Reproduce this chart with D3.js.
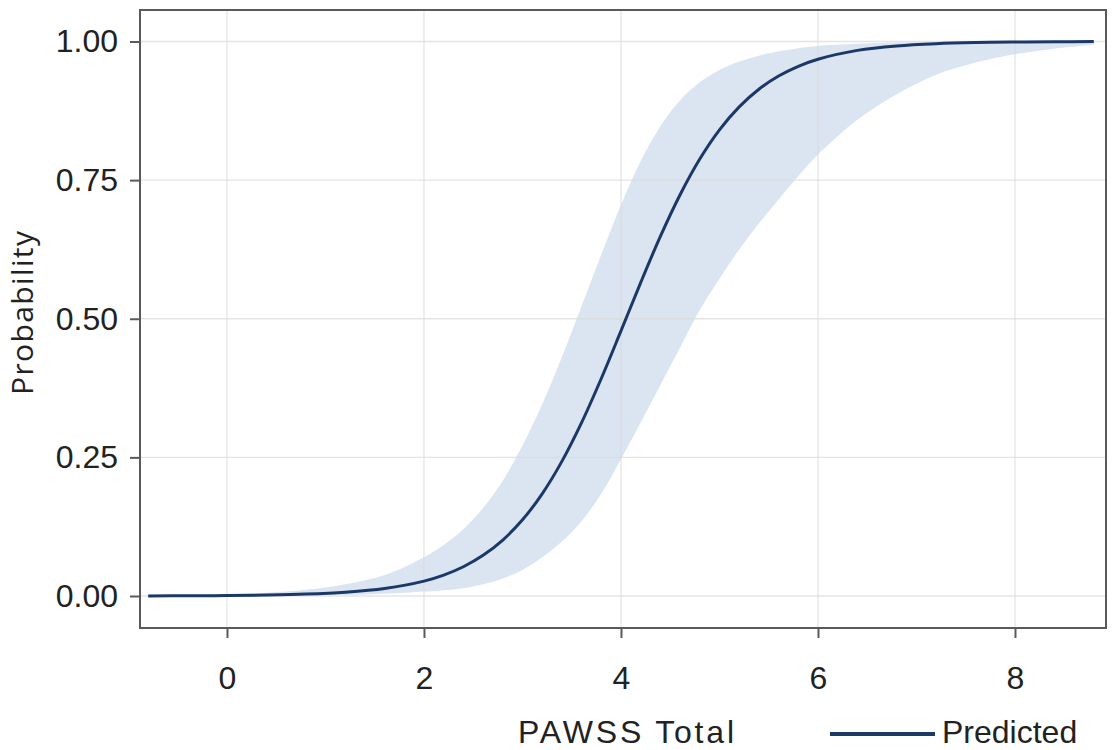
<!DOCTYPE html>
<html>
<head>
<meta charset="utf-8">
<script src="https://cdn.jsdelivr.net/npm/d3@7"></script>
<style>
  html, body { margin: 0; padding: 0; background: #fff; }
  svg { display: block; }
</style>
</head>
<body>
<svg id="chart" width="1114" height="750"></svg>
<script>
// PAWSS total score grid and predicted probability with 95% confidence band
const pawss = [-0.8, -0.4, 0, 0.4, 0.8, 1.2, 1.6,
               2.0, 2.2, 2.4, 2.6, 2.8, 3.0, 3.2, 3.4, 3.6, 3.8, 4.0,
               4.2, 4.4, 4.6, 4.8, 5.0, 5.2, 5.4, 5.6, 5.8, 6.0,
               6.4, 6.8, 7.2, 7.6, 8.0, 8.4, 8.8];
const predicted = [0.0002, 0.0004, 0.0008, 0.0017, 0.0034, 0.0068, 0.0135,
                   0.0269, 0.0378, 0.0528, 0.0733, 0.1009, 0.1374, 0.1843, 0.2428, 0.3127, 0.3923, 0.4781,
                   0.5652, 0.6485, 0.7236, 0.788, 0.8406, 0.8821, 0.9139, 0.9377, 0.9553, 0.9681,
                   0.984, 0.992, 0.996, 0.998, 0.999, 0.9995, 0.9998];
const upperCI = [0.0008, 0.0016, 0.0031, 0.0058, 0.0111, 0.021, 0.0377,
                 0.0699, 0.0922, 0.1205, 0.1588, 0.208, 0.2714, 0.3458, 0.431, 0.5231, 0.616, 0.7053,
                 0.7845, 0.8471, 0.8941, 0.9264, 0.9485, 0.9638, 0.9745, 0.9822, 0.988, 0.9921,
                 0.996, 0.998, 0.999, 0.9995, 0.9997, 0.9998, 0.9999];
const lowerCI = [0.00006, 0.0001, 0.0002, 0.0005, 0.001, 0.002, 0.0039,
                 0.0079, 0.0106, 0.0142, 0.0211, 0.0315, 0.0471, 0.0699, 0.0981, 0.135, 0.1843, 0.2465,
                 0.3127, 0.3805, 0.4483, 0.5156, 0.572, 0.625, 0.672, 0.715, 0.757, 0.796,
                 0.859, 0.905, 0.94, 0.962, 0.977, 0.987, 0.994];

const xTicks = [0, 2, 4, 6, 8];
const yTicks = [0, 0.25, 0.5, 0.75, 1];
const xTitle = "PAWSS Total";
const yTitle = "Probability";
const legendLabel = "Predicted";

const rows = pawss.map((x, i) => ({ x, p: predicted[i], lo: lowerCI[i], hi: upperCI[i] }));

const svg = d3.select("#chart");
const plot = { left: 140, right: 1106, top: 10, bottom: 628 };

const x = d3.scaleLinear().domain([-0.883, 8.924]).range([plot.left, plot.right]);
const y = d3.scaleLinear().domain([-0.0577, 1.0568]).range([plot.bottom, plot.top]);

const tickFont = "'Liberation Sans', Arial, sans-serif";
const navy = "#1b3867";

// confidence band
svg.append("path")
  .datum(rows)
  .attr("fill", "#dbe5f1")
  .attr("d", d3.area()
    .x(d => x(d.x))
    .y0(d => y(d.lo))
    .y1(d => y(d.hi))
    .curve(d3.curveCatmullRom));

// grid lines, drawn over the band so they show through it
const grid = svg.append("g").attr("stroke", "#d9d9d9").attr("stroke-opacity", 0.7).attr("stroke-width", 1.3);
xTicks.forEach(t => grid.append("line")
  .attr("x1", x(t)).attr("x2", x(t)).attr("y1", plot.top).attr("y2", plot.bottom));
yTicks.forEach(t => grid.append("line")
  .attr("x1", plot.left).attr("x2", plot.right).attr("y1", y(t)).attr("y2", y(t)));

// predicted probability curve
svg.append("path")
  .datum(rows)
  .attr("fill", "none")
  .attr("stroke", navy)
  .attr("stroke-width", 3)
  .attr("d", d3.line()
    .x(d => x(d.x))
    .y(d => y(d.p))
    .curve(d3.curveCatmullRom));

// plot frame
svg.append("rect")
  .attr("x", plot.left).attr("y", plot.top)
  .attr("width", plot.right - plot.left).attr("height", plot.bottom - plot.top)
  .attr("fill", "none").attr("stroke", "#5a5a5a").attr("stroke-width", 2);

// axes
const xAxis = svg.append("g")
  .attr("transform", `translate(0,${plot.bottom})`)
  .call(d3.axisBottom(x).tickValues(xTicks).tickFormat(d3.format("d")).tickSize(10).tickPadding(28));
const yAxis = svg.append("g")
  .attr("transform", `translate(${plot.left},0)`)
  .call(d3.axisLeft(y).tickValues(yTicks).tickFormat(d3.format(".2f")).tickSize(10).tickPadding(12));

[xAxis, yAxis].forEach(g => {
  g.select(".domain").remove();
  g.selectAll(".tick line").attr("stroke", "#5a5a5a").attr("stroke-width", 2);
  g.selectAll(".tick text")
    .attr("font-family", tickFont)
    .attr("font-size", 32)
    .attr("fill", "#222");
});

// axis titles
svg.append("text")
  .attr("x", 518).attr("y", 743)
  .attr("textLength", 216).attr("lengthAdjust", "spacing")
  .attr("font-family", tickFont).attr("font-size", 32).attr("fill", "#222")
  .text(xTitle);

svg.append("text")
  .attr("transform", "translate(33,313) rotate(-90)")
  .attr("text-anchor", "middle")
  .attr("textLength", 164).attr("lengthAdjust", "spacing")
  .attr("font-family", "'Open Sans', 'Noto Sans', sans-serif").attr("font-size", 30).attr("fill", "#222")
  .text(yTitle);

// legend
const legend = svg.append("g");
legend.append("line")
  .attr("x1", 830).attr("x2", 935).attr("y1", 734).attr("y2", 734)
  .attr("stroke", navy).attr("stroke-width", 4);
legend.append("text")
  .attr("x", 942).attr("y", 743)
  .attr("font-family", tickFont).attr("font-size", 32).attr("fill", "#222")
  .text(legendLabel);
</script>
</body>
</html>
